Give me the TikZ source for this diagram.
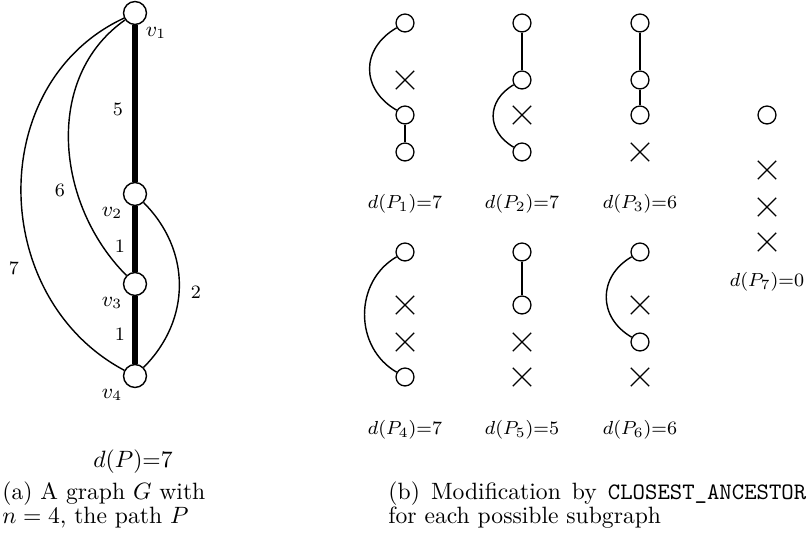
\documentclass[tikz,border=0pt]{standalone}
\usetikzlibrary{shapes.misc}
\begin{document}
\begin{tikzpicture}[x=0.4237pt,y=0.4237pt,
  bigv/.style={circle,draw,line width=0.6pt,fill=white,minimum size=9.7pt,inner sep=0pt},
  smallv/.style={circle,draw,line width=0.55pt,fill=white,minimum size=7.6pt,inner sep=0pt},
  xmark/.style={cross out,draw,line width=0.55pt,minimum size=7.2pt,inner sep=0pt},
  pathedge/.style={line width=2.8pt},
  thinedge/.style={line width=0.6pt},
  elabel/.style={font=\footnotesize,inner sep=0pt},
  vlabel/.style={font=\small,inner sep=0pt},
  dlabel/.style={font=\footnotesize,inner sep=0pt}]
\useasboundingbox (0,0) rectangle (808,-544);
% ---------- (a) graph G ----------
\node[bigv] (v1) at (135,-13) {};
\node[bigv] (v2) at (135,-194) {};
\node[bigv] (v3) at (135,-284) {};
\node[bigv] (v4) at (135,-376) {};
\draw[pathedge] (v1) -- (v2);
\draw[pathedge] (v2) -- (v3);
\draw[pathedge] (v3) -- (v4);
\draw[thinedge] (v1) to[out=205,in=152,looseness=1.12] (v4);
\draw[thinedge] (v1) to[out=215,in=135,looseness=1.0] (v3);
\draw[thinedge] (v2) to[out=-45,in=45,looseness=1.05] (v4);
\node[vlabel] (l1) at (156,-33) {$v_1$};
\node[vlabel] (l2) at (112,-213) {$v_2$};
\node[vlabel] (l3) at (112,-303) {$v_3$};
\node[vlabel] (l4) at (112,-395) {$v_4$};
\node[elabel] (e5) at (118,-109) {5};
\node[elabel] (e6) at (60,-190) {6};
\node[elabel] (e1a) at (120,-246) {1};
\node[elabel] (e7) at (14,-268) {7};
\node[elabel] (e2) at (196,-292) {2};
\node[elabel] (e1b) at (120,-334) {1};
\node[inner sep=0pt] (dP) at (133,-462) {$d(P)$=7};
% ---------- (b) subgraphs ----------
% P1
\node[smallv] (a1) at (405,-23) {};
\node[xmark]  (a2) at (405,-80) {};
\node[smallv] (a3) at (405,-115) {};
\node[smallv] (a4) at (405,-152) {};
\draw[thinedge] (a1) to[out=210,in=150,looseness=1.3] (a3);
\draw[thinedge] (a3) -- (a4);
\node[dlabel] (d1) at (405,-204) {$d(P_1)$=7};
% P2
\node[smallv] (b1) at (522,-23) {};
\node[smallv] (b2) at (522,-80) {};
\node[xmark]  (b3) at (522,-115) {};
\node[smallv] (b4) at (522,-152) {};
\draw[thinedge] (b1) -- (b2);
\draw[thinedge] (b2) to[out=210,in=150,looseness=1.3] (b4);
\node[dlabel] (d2) at (522,-204) {$d(P_2)$=7};
% P3
\node[smallv] (c1) at (640,-23) {};
\node[smallv] (c2) at (640,-80) {};
\node[smallv] (c3) at (640,-115) {};
\node[xmark]  (c4) at (640,-152) {};
\draw[thinedge] (c1) -- (c2);
\draw[thinedge] (c2) -- (c3);
\node[dlabel] (d3) at (640,-204) {$d(P_3)$=6};
% P4
\node[smallv] (f1) at (405,-252) {};
\node[xmark]  (f2) at (405,-305) {};
\node[xmark]  (f3) at (405,-342) {};
\node[smallv] (f4) at (405,-377) {};
\draw[thinedge] (f1) to[out=210,in=150,looseness=1.1] (f4);
\node[dlabel] (d4) at (405,-430) {$d(P_4)$=7};
% P5
\node[smallv] (g1) at (522,-252) {};
\node[smallv] (g2) at (522,-305) {};
\node[xmark]  (g3) at (522,-342) {};
\node[xmark]  (g4) at (522,-377) {};
\draw[thinedge] (g1) -- (g2);
\node[dlabel] (d5) at (522,-430) {$d(P_5)$=5};
% P6
\node[smallv] (h1) at (640,-252) {};
\node[xmark]  (h2) at (640,-305) {};
\node[smallv] (h3) at (640,-342) {};
\node[xmark]  (h4) at (640,-377) {};
\draw[thinedge] (h1) to[out=210,in=150,looseness=1.25] (h3);
\node[dlabel] (d6) at (640,-430) {$d(P_6)$=6};
% P7
\node[smallv] (k1) at (767,-115) {};
\node[xmark]  (k2) at (767,-170) {};
\node[xmark]  (k3) at (767,-207) {};
\node[xmark]  (k4) at (767,-242) {};
\node[dlabel] (d7) at (767,-282) {$d(P_7)$=0};
% ---------- captions ----------
\node[anchor=base west,inner sep=0pt] (ca1) at (2,-500) {(a) A graph $G$ with};
\node[anchor=base west,inner sep=0pt] (ca2) at (2,-524) {$n=4$, the path $P$};
\node[anchor=base west,inner sep=0pt] (cb1) at (388,-500) {\makebox[177pt][s]{(b) Modification by \texttt{CLOSEST\_ANCESTOR}}};
\node[anchor=base west,inner sep=0pt] (cb2) at (388,-524) {for each possible subgraph};
\end{tikzpicture}
\end{document}
